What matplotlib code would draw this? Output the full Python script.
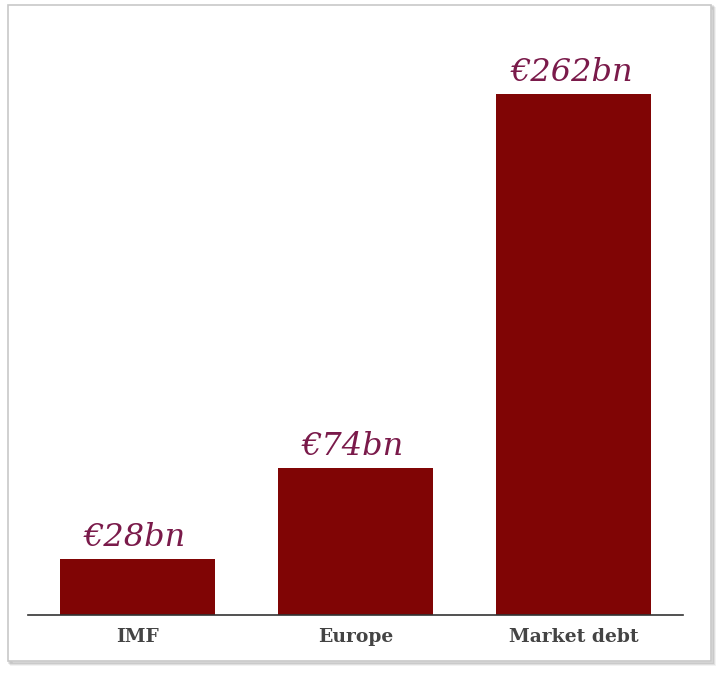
import matplotlib.pyplot as plt
from matplotlib.patches import Rectangle

categories = ["IMF", "Europe", "Market debt"]
values = [28, 74, 262]
labels = ["€28bn", "€74bn", "€262bn"]

bar_color = "#800505"
label_color = "#7a1a4a"

fig = plt.figure(figsize=(7.19, 6.75), dpi=100)
fig.patch.set_facecolor("white")

# framed card with a soft shadow
W, H = 719, 675
for i, a in enumerate([0.06, 0.08, 0.10]):
    off = 3 - i
    fig.patches.append(Rectangle(((8 + off) / W, (675 - 661 - off) / H),
                                 703 / W, 656 / H, transform=fig.transFigure,
                                 facecolor="none", edgecolor="black",
                                 alpha=a, linewidth=2, zorder=-3))
fig.patches.append(Rectangle((8 / W, (675 - 661) / H), 703 / W, 656 / H,
                             transform=fig.transFigure, facecolor="white",
                             edgecolor="#c8c8c8", linewidth=1.2, zorder=-2))

ax = fig.add_axes([28 / W, 60 / H, 655 / W, 585 / H])
ax.set_zorder(5)
ax.set_facecolor("none")
x = range(len(categories))
ax.bar(x, values, width=0.71, color=bar_color, zorder=2)
ax.set_xlim(-0.5, 2.5)
ax.set_ylim(0, 294)

for xi, v, lab in zip(x, values, labels):
    ax.text(xi - 0.01, v + 3, lab, ha="center", va="bottom", fontsize=23,
            fontstyle="italic", family="DejaVu Serif", color=label_color)

for s in ["top", "right", "left"]:
    ax.spines[s].set_visible(False)
ax.spines["bottom"].set_color("#333333")
ax.spines["bottom"].set_linewidth(1.2)
ax.set_yticks([])
ax.set_xticks(list(x))
ax.set_xticklabels(categories, fontsize=13.5, fontweight="bold",
                   family="DejaVu Serif", color="#444444")
ax.tick_params(axis="x", length=0, pad=9)

fig.savefig("out.png", dpi=100)
